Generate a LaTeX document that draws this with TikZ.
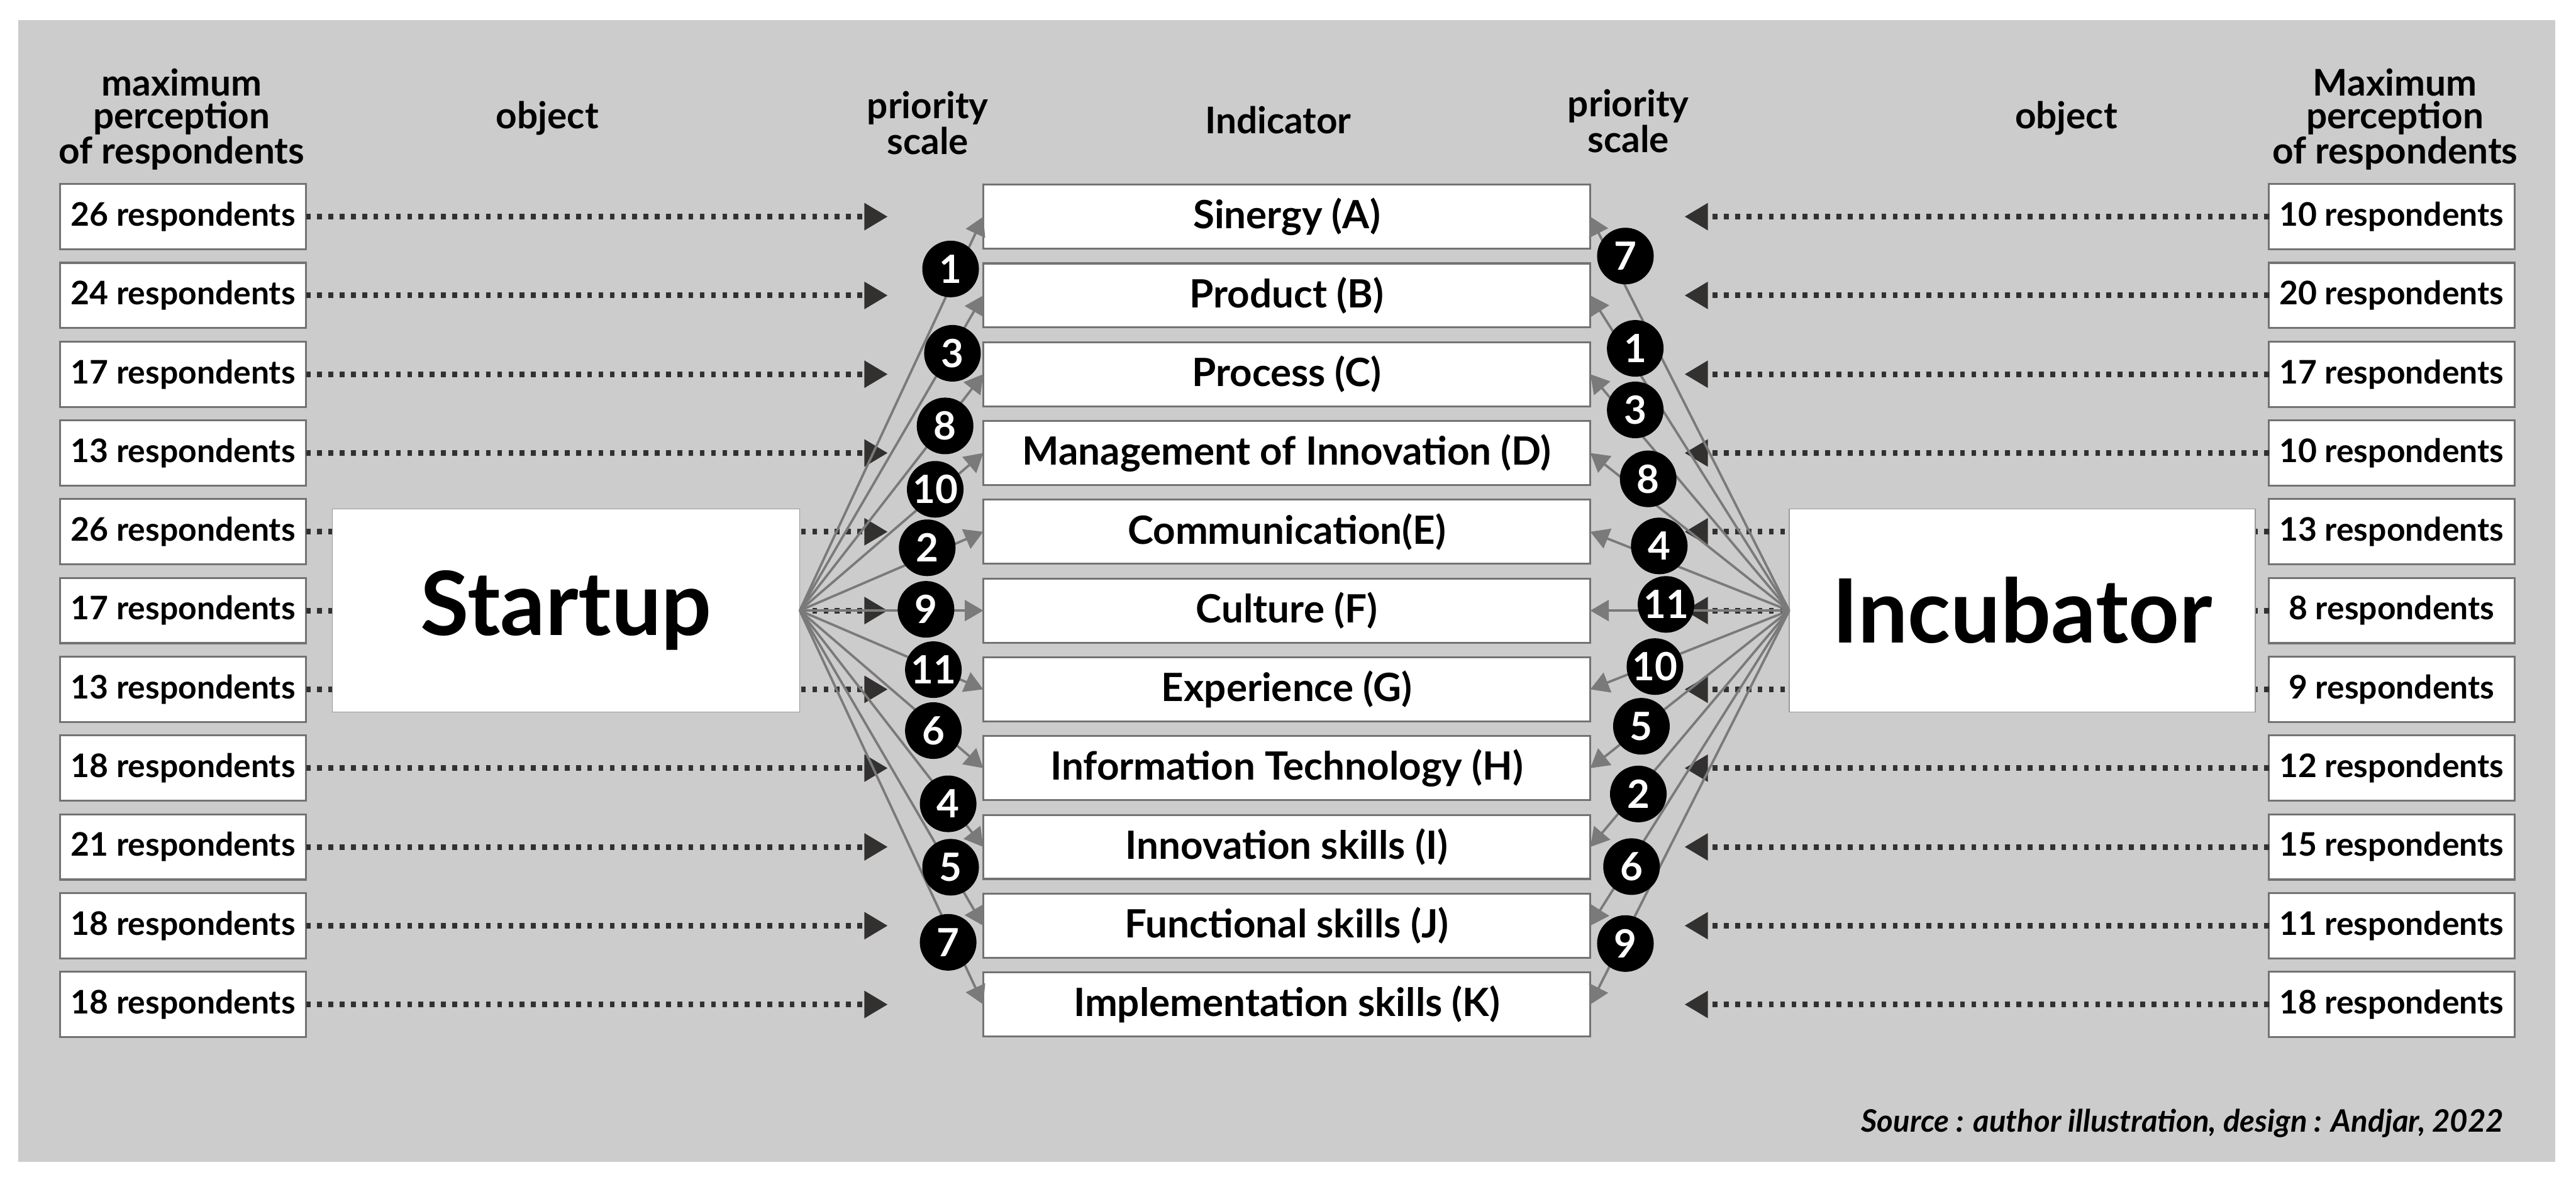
\documentclass[tikz,border=0pt]{standalone}
\usepackage{fontspec}
\setmainfont{Lato}
\usepackage{tikz}
\usetikzlibrary{positioning,arrows.meta}
\definecolor{bggray}{HTML}{CCCCCC}
\definecolor{fangray}{HTML}{7A7A7A}
\definecolor{dotdark}{HTML}{333030}

\begin{document}
\begin{tikzpicture}[
  >=Stealth,
  head/.style={font=\fontsize{17}{15}\selectfont\bfseries,align=center},
  resp/.style={draw=black!55,line width=0.9pt,fill=white,outer sep=0pt,
               font=\fontsize{15}{18}\selectfont\bfseries,
               minimum width=39.9mm,minimum height=10.6mm},
  ind/.style={draw=black!55,line width=0.9pt,fill=white,outer sep=0pt,
              font=\fontsize{18}{21}\selectfont\bfseries,
              minimum width=98.6mm,minimum height=10.4mm},
  actor/.style={draw=black!40,fill=white,outer sep=0pt,
                font=\fontsize{41}{48}\selectfont\bfseries,
                minimum height=33mm},
  rank/.style={circle,fill=black,text=white,inner sep=0pt,minimum size=9.2mm,
               font=\fontsize{18}{20}\selectfont\bfseries},
  dotarr/.style={-{Triangle[length=3.8mm,width=4.2mm]},dotdark,line width=2.6pt,
                 dash pattern=on 2.2pt off 3pt},
  fanarr/.style={-{Triangle[length=3mm,width=3.4mm]},fangray,line width=1.1pt},
]
  \useasboundingbox (0,0) rectangle (418.4mm,-192.8mm);
  \fill[bggray] (3mm,-3.3mm) rectangle (415mm,-188.8mm);

  % column headings
  \node[head] (hmaxL)  at (29.5mm,-19.4mm)  {maximum\\perception\\of respondents};
  \node[head] (hobjL)  at (88.9mm,-19.2mm)  {object};
  \node[head] (hprioL) at (150.7mm,-20mm)   {priority\\scale};
  \node[head] (hind)   at (207.6mm,-19.5mm) {Indicator};
  \node[head] (hprioR) at (264.5mm,-19.7mm) {priority\\scale};
  \node[head] (hobjR)  at (335.6mm,-19.2mm) {object};
  \node[head] (hmaxR)  at (389mm,-19.4mm)   {Maximum\\perception\\of respondents};

  % startup side
  \node[resp] (sA) at (29.75mm,-35.2mm) {26 respondents};
  \node[resp,below=2.2mm of sA] (sB) {24 respondents};
  \node[resp,below=2.2mm of sB] (sC) {17 respondents};
  \node[resp,below=2.2mm of sC] (sD) {13 respondents};
  \node[resp,below=2.2mm of sD] (sE) {26 respondents};
  \node[resp,below=2.2mm of sE] (sF) {17 respondents};
  \node[resp,below=2.2mm of sF] (sG) {13 respondents};
  \node[resp,below=2.2mm of sG] (sH) {18 respondents};
  \node[resp,below=2.2mm of sH] (sI) {21 respondents};
  \node[resp,below=2.2mm of sI] (sJ) {18 respondents};
  \node[resp,below=2.2mm of sJ] (sK) {18 respondents};

  % indicators
  \node[ind,right=110mm of sA] (iA) {Sinergy (A)};
  \node[ind,right=110mm of sB] (iB) {Product (B)};
  \node[ind,right=110mm of sC] (iC) {Process (C)};
  \node[ind,right=110mm of sD] (iD) {Management of Innovation (D)};
  \node[ind,right=110mm of sE] (iE) {Communication(E)};
  \node[ind,right=110mm of sF] (iF) {Culture (F)};
  \node[ind,right=110mm of sG] (iG) {Experience (G)};
  \node[ind,right=110mm of sH] (iH) {Information Technology (H)};
  \node[ind,right=110mm of sI] (iI) {Innovation skills (I)};
  \node[ind,right=110mm of sJ] (iJ) {Functional skills (J)};
  \node[ind,right=110mm of sK] (iK) {Implementation skills (K)};

  % incubator side
  \node[resp,right=110.2mm of iA] (nA) {10 respondents};
  \node[resp,right=110.2mm of iB] (nB) {20 respondents};
  \node[resp,right=110.2mm of iC] (nC) {17 respondents};
  \node[resp,right=110.2mm of iD] (nD) {10 respondents};
  \node[resp,right=110.2mm of iE] (nE) {13 respondents};
  \node[resp,right=110.2mm of iF] (nF) {8 respondents};
  \node[resp,right=110.2mm of iG] (nG) {9 respondents};
  \node[resp,right=110.2mm of iH] (nH) {12 respondents};
  \node[resp,right=110.2mm of iI] (nI) {15 respondents};
  \node[resp,right=110.2mm of iJ] (nJ) {11 respondents};
  \node[resp,right=110.2mm of iK] (nK) {18 respondents};

  % dotted arrows (the actor boxes are drawn over them)
  \coordinate (tipL) at (144.2mm,0);
  \coordinate (tipR) at (273.6mm,0);
  \draw[dotarr] (sA.east) -- (sA -| tipL);
  \draw[dotarr] (sB.east) -- (sB -| tipL);
  \draw[dotarr] (sC.east) -- (sC -| tipL);
  \draw[dotarr] (sD.east) -- (sD -| tipL);
  \draw[dotarr] (sE.east) -- (sE -| tipL);
  \draw[dotarr] (sF.east) -- (sF -| tipL);
  \draw[dotarr] (sG.east) -- (sG -| tipL);
  \draw[dotarr] (sH.east) -- (sH -| tipL);
  \draw[dotarr] (sI.east) -- (sI -| tipL);
  \draw[dotarr] (sJ.east) -- (sJ -| tipL);
  \draw[dotarr] (sK.east) -- (sK -| tipL);
  \draw[dotarr] (nA.west) -- (nA -| tipR);
  \draw[dotarr] (nB.west) -- (nB -| tipR);
  \draw[dotarr] (nC.west) -- (nC -| tipR);
  \draw[dotarr] (nD.west) -- (nD -| tipR);
  \draw[dotarr] (nE.west) -- (nE -| tipR);
  \draw[dotarr] (nF.west) -- (nF -| tipR);
  \draw[dotarr] (nG.west) -- (nG -| tipR);
  \draw[dotarr] (nH.west) -- (nH -| tipR);
  \draw[dotarr] (nI.west) -- (nI -| tipR);
  \draw[dotarr] (nJ.west) -- (nJ -| tipR);
  \draw[dotarr] (nK.west) -- (nK -| tipR);

  \node[actor,minimum width=75.9mm,right=4.3mm of sF] (startup) {Startup};
  \node[actor,minimum width=75.7mm,left=2.2mm of nF]  (incub)   {Incubator};

  % fan to indicators
  \draw[fanarr] (startup.east) -- (iA.west);
  \draw[fanarr] (startup.east) -- (iB.west);
  \draw[fanarr] (startup.east) -- (iC.west);
  \draw[fanarr] (startup.east) -- (iD.west);
  \draw[fanarr] (startup.east) -- (iE.west);
  \draw[fanarr] (startup.east) -- (iF.west);
  \draw[fanarr] (startup.east) -- (iG.west);
  \draw[fanarr] (startup.east) -- (iH.west);
  \draw[fanarr] (startup.east) -- (iI.west);
  \draw[fanarr] (startup.east) -- (iJ.west);
  \draw[fanarr] (startup.east) -- (iK.west);
  \draw[fanarr] (incub.west) -- (iA.east);
  \draw[fanarr] (incub.west) -- (iB.east);
  \draw[fanarr] (incub.west) -- (iC.east);
  \draw[fanarr] (incub.west) -- (iD.east);
  \draw[fanarr] (incub.west) -- (iE.east);
  \draw[fanarr] (incub.west) -- (iF.east);
  \draw[fanarr] (incub.west) -- (iG.east);
  \draw[fanarr] (incub.west) -- (iH.east);
  \draw[fanarr] (incub.west) -- (iI.east);
  \draw[fanarr] (incub.west) -- (iJ.east);
  \draw[fanarr] (incub.west) -- (iK.east);

  % priority badges, startup
  \node[rank] (spA) at (154.4mm,-43.7mm)  {1};
  \node[rank] (spB) at (154.7mm,-57.4mm)  {3};
  \node[rank] (spC) at (153.5mm,-69.2mm)  {8};
  \node[rank] (spD) at (151.9mm,-79.5mm)  {10};
  \node[rank] (spE) at (150.6mm,-89.0mm)  {2};
  \node[rank] (spF) at (150.4mm,-99.0mm)  {9};
  \node[rank] (spG) at (151.6mm,-108.8mm) {11};
  \node[rank] (spH) at (151.6mm,-118.7mm) {6};
  \node[rank] (spI) at (154.0mm,-130.6mm) {4};
  \node[rank] (spJ) at (154.4mm,-140.9mm) {5};
  \node[rank] (spK) at (154.0mm,-153.1mm) {7};

  % priority badges, incubator
  \node[rank] (ipA) at (264.0mm,-41.6mm)  {7};
  \node[rank] (ipB) at (265.6mm,-56.6mm)  {1};
  \node[rank] (ipC) at (265.6mm,-66.6mm)  {3};
  \node[rank] (ipD) at (267.7mm,-77.8mm)  {8};
  \node[rank] (ipE) at (269.5mm,-88.7mm)  {4};
  \node[rank] (ipF) at (270.6mm,-98.2mm)  {11};
  \node[rank] (ipG) at (268.8mm,-108.3mm) {10};
  \node[rank] (ipH) at (266.6mm,-118.0mm) {5};
  \node[rank] (ipI) at (266.1mm,-129.0mm) {2};
  \node[rank] (ipJ) at (265.0mm,-140.8mm) {6};
  \node[rank] (ipK) at (264.0mm,-153.3mm) {9};

  \node[font=\fontsize{14.3}{16}\selectfont\bfseries\itshape,anchor=east] (src)
    at (407.9mm,-182.5mm) {Source : author illustration, design : Andjar, 2022};
\end{tikzpicture}
\end{document}
